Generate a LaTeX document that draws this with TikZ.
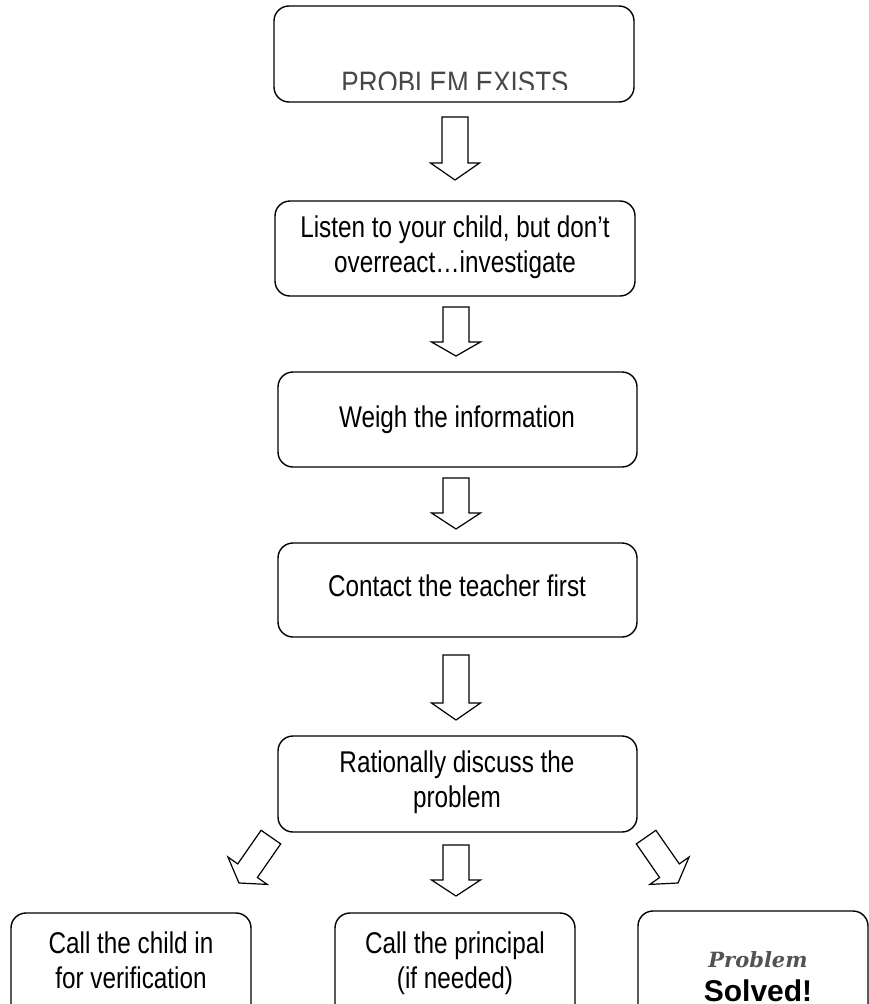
\documentclass[tikz,border=0pt]{standalone}
\usepackage{fontspec}
\newfontfamily\narrowfont[FakeStretch=0.81]{Liberation Sans}
\newfontfamily\headfont[FakeStretch=0.84]{Liberation Sans}
\newfontfamily\boldsans{Liberation Sans}
\newfontfamily\serifbi{DejaVu Serif}
\begin{document}
\begin{tikzpicture}[x=1pt,y=-1pt,
  box/.style={draw=black, line width=1.4pt, rounded corners=15pt, inner sep=0pt, outer sep=0pt, anchor=north west},
  blockarrow/.style={draw=black, line width=1.2pt, fill=white, line join=miter},
  txt/.style={anchor=base, inner sep=0pt, font=\narrowfont\fontsize{30}{35}\selectfont}
]
\useasboundingbox (0,0) rectangle (869,1004);
\clip (0,0) rectangle (869,1004);

% boxes
\node[box, minimum width=360pt, minimum height=96pt] (b1) at (274,6) {};
\node[box, minimum width=360pt, minimum height=95pt] (b2) at (275,201) {};
\node[box, minimum width=359pt, minimum height=95pt] (b3) at (278,372) {};
\node[box, minimum width=359pt, minimum height=94pt] (b4) at (278,543) {};
\node[box, minimum width=359pt, minimum height=96pt] (b5) at (278,736) {};
\node[box, minimum width=240pt, minimum height=120pt] (b6) at (11,913) {};
\node[box, minimum width=240pt, minimum height=120pt] (b7) at (335,913) {};
\node[box, minimum width=230pt, minimum height=120pt] (b8) at (638,911) {};

% top text (clipped at its foot, as in the picture)
\begin{scope}
  \clip (274,6) rectangle (634,89);
  \node[anchor=base, inner sep=0pt, text=black!72, font=\headfont\fontsize{31}{36}\selectfont] (t1) at (455,93) {PROBLEM EXISTS};
\end{scope}

\node[txt] (t2a) at (455,237) {Listen to your child, but don’t};
\node[txt] (t2b) at (455,272) {overreact…investigate};
\node[txt] (t3) at (457,427) {Weigh the information};
\node[txt] (t4) at (457,596) {Contact the teacher first};
\node[txt] (t5a) at (457,772) {Rationally discuss the};
\node[txt] (t5b) at (457,807) {problem};
\node[txt] (t6a) at (131,953) {Call the child in};
\node[txt] (t6b) at (131,988) {for verification};
\node[txt] (t7a) at (455,953) {Call the principal};
\node[txt] (t7b) at (455,988) {(if needed)};
\node[anchor=base, inner sep=0pt, text=black!68, font=\serifbi\bfseries\itshape\fontsize{21}{25}\selectfont] (t8a) at (758,967) {Problem};
\node[anchor=base, inner sep=0pt, font=\boldsans\bfseries\fontsize{30}{35}\selectfont] (t8b) at (758,1001) {Solved!};

% vertical block arrows
\newcommand{\blockdown}[4]{%
  \draw[blockarrow] (#1-13,#2) -- (#1+13,#2) -- (#1+13,#3) -- (#1+24.5,#3) -- (#1,#4) -- (#1-24.5,#3) -- (#1-13,#3) -- cycle;}
\blockdown{455}{117}{163}{180}
\blockdown{456}{307}{342}{356}
\blockdown{456}{478}{513}{529}
\blockdown{456}{655}{703}{720}
\blockdown{456}{845}{880}{896}

% diagonal block arrows
\draw[blockarrow] (261.1,830.3) -- (280.7,843.9) -- (257.4,877.5) -- (267.2,884.4) -- (239,883) -- (227.9,857.0) -- (237.7,863.9) -- cycle;
\draw[blockarrow] (655.9,830.3) -- (636.3,843.9) -- (659.6,877.5) -- (649.8,884.4) -- (678,883) -- (689.1,857.0) -- (679.3,863.9) -- cycle;
\end{tikzpicture}
\end{document}
